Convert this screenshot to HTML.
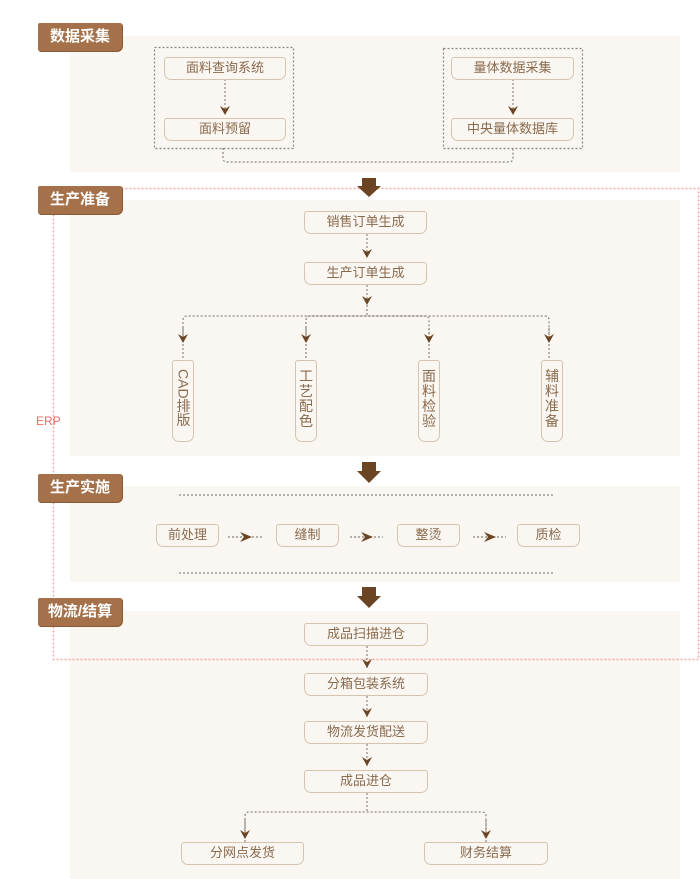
<!DOCTYPE html>
<html><head><meta charset="utf-8"><style>
body{margin:0;width:700px;height:879px;background:#fff;position:relative;overflow:hidden;font-family:"Liberation Sans","Noto Sans CJK SC",sans-serif;}
.p{position:absolute;left:70px;width:610px;background:#faf7f2;}
.b{position:absolute;left:38px;width:84px;height:28px;background:#a4714a;color:#fff;font-weight:bold;font-size:15px;line-height:28px;text-align:center;border-radius:2px 2px 6px 2px;box-shadow:1px 1px 0 #8a5a36;}
.n{position:absolute;box-sizing:border-box;border:1.5px solid #d6c4ae;border-radius:3px 3px 7px 7px;color:#8a6a4d;font-size:13px;text-align:center;background:#faf7f2;}
.h{height:23px;line-height:20px;}
.v{width:22px;height:82px;font-size:14px;line-height:15px;padding-top:8px;}
svg{position:absolute;left:0;top:0;}
</style></head><body>
<div class="p" style="top:36px;height:136px"></div>
<div class="p" style="top:200px;height:256px"></div>
<div class="p" style="top:486px;height:96px"></div>
<div class="p" style="top:611px;height:268px"></div>

<svg width="700" height="879">
<defs><marker id="a" markerWidth="10" markerHeight="12" refX="9" refY="5" orient="auto" markerUnits="userSpaceOnUse"><path d="M0,0 L9,5 L0,10 L3,5z" fill="#6b4423"/></marker>
<marker id="r" markerWidth="12" markerHeight="10" refX="12" refY="5" orient="auto" markerUnits="userSpaceOnUse"><path d="M0,0 L12,5 L0,10 L4,5z" fill="#6b4423"/></marker></defs>
<g fill="none" stroke="#8a8580" stroke-width="1.2" stroke-dasharray="2,2">
<rect x="154.5" y="47.5" width="139" height="101"/>
<rect x="443.5" y="48.5" width="139" height="100"/>
<path d="M223,148 V158 Q223,162 227,162 H509 Q513,162 513,158 V148"/>
<path d="M225,79 V115" marker-end="url(#a)"/>
<path d="M513,79 V115" marker-end="url(#a)"/>
<path d="M367,234 V258" marker-end="url(#a)"/>
<path d="M367,285 V305" marker-end="url(#a)"/>
<path d="M367,305 V316"/>
<path d="M183,340 V320 Q183,316 187,316 H545 Q549,316 549,320 V340"/>
<path d="M306,340 V320 Q306,316 310,316 H425 Q429,316 429,320 V340"/>
<path d="M183,340 V360 M306,340 V360 M429,340 V360 M549,340 V360"/>
<path d="M183,328 V343" marker-end="url(#a)"/><path d="M306,328 V343" marker-end="url(#a)"/><path d="M429,328 V343" marker-end="url(#a)"/><path d="M549,328 V343" marker-end="url(#a)"/>
<path d="M179,495 H553 M179,573 H553"/>
<path d="M228,537 H262 M350,537 H383 M473,537 H506"/>
<path d="M367,646 V668" marker-end="url(#a)"/>
<path d="M367,696 V717" marker-end="url(#a)"/>
<path d="M367,744 V766" marker-end="url(#a)"/>
<path d="M367,793 V812 M245,836 V816 Q245,812 249,812 H482 Q486,812 486,816 V836 M245,842 V838 M486,842 V838"/>
<path d="M245,820 V839" marker-end="url(#a)"/><path d="M486,820 V839" marker-end="url(#a)"/>
</g>
<g><path d="M232,537 H252" marker-end="url(#r)" stroke="#6b4423" stroke-width="0.1"/><path d="M354,537 H373" marker-end="url(#r)" stroke="#6b4423" stroke-width="0.1"/><path d="M477,537 H496" marker-end="url(#r)" stroke="#6b4423" stroke-width="0.1"/></g>
<rect x="53.5" y="188.5" width="645" height="471" fill="none" stroke="#f7a5a5" stroke-width="1.5" stroke-dasharray="2,2"/>
<g fill="#6b4423">
<path d="M362,178 H376 V186 H381 L369,197 L357,186 H362z"/>
<path d="M362,462 H376 V471 H381 L369,483 L357,471 H362z"/>
<path d="M362,587 H376 V596 H381 L369,608 L357,596 H362z"/>
</g>
</svg>

<div class="b" style="top:23px">数据采集</div>
<div class="b" style="top:186px">生产准备</div>
<div class="b" style="top:474px">生产实施</div>
<div class="b" style="top:598px">物流/结算</div>
<div style="position:absolute;left:36px;top:414px;color:#f46a6a;font-size:12px;">ERP</div>

<div class="n h" style="left:164px;top:57px;width:122px">面料查询系统</div>
<div class="n h" style="left:164px;top:118px;width:122px">面料预留</div>
<div class="n h" style="left:451px;top:57px;width:123px">量体数据采集</div>
<div class="n h" style="left:451px;top:118px;width:123px">中央量体数据库</div>

<div class="n h" style="left:304px;top:211px;width:123px">销售订单生成</div>
<div class="n h" style="left:304px;top:262px;width:123px">生产订单生成</div>
<div class="n v" style="left:172px;top:360px"><span style="writing-mode:vertical-rl;font-size:14px;">CAD排版</span></div>
<div class="n v" style="left:295px;top:360px">工<br>艺<br>配<br>色</div>
<div class="n v" style="left:418px;top:360px">面<br>料<br>检<br>验</div>
<div class="n v" style="left:541px;top:360px">辅<br>料<br>准<br>备</div>

<div class="n h" style="left:156px;top:524px;width:63px">前处理</div>
<div class="n h" style="left:276px;top:524px;width:63px">缝制</div>
<div class="n h" style="left:397px;top:524px;width:63px">整烫</div>
<div class="n h" style="left:517px;top:524px;width:63px">质检</div>

<div class="n h" style="left:304px;top:623px;width:124px">成品扫描进仓</div>
<div class="n h" style="left:304px;top:673px;width:124px">分箱包装系统</div>
<div class="n h" style="left:304px;top:721px;width:124px">物流发货配送</div>
<div class="n h" style="left:304px;top:770px;width:124px">成品进仓</div>
<div class="n h" style="left:181px;top:842px;width:123px">分网点发货</div>
<div class="n h" style="left:424px;top:842px;width:124px">财务结算</div>
</body></html>
